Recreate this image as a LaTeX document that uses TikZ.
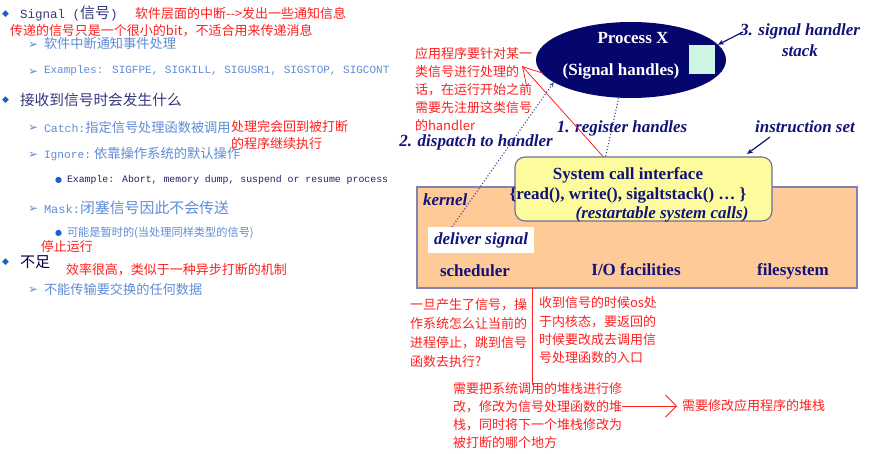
\documentclass[tikz,border=0pt]{standalone}
\usepackage{fontspec}
\setmainfont{Liberation Serif}
\newfontfamily\cjk{Noto Sans CJK SC}
\newfontfamily\monof{Liberation Mono}
\newfontfamily\symf{DejaVu Sans}
\usetikzlibrary{shapes.geometric,arrows.meta}
\definecolor{redc}{RGB}{255,32,32}
\definecolor{lblue}{RGB}{95,140,215}
\definecolor{dpurple}{RGB}{55,55,125}
\definecolor{bblue}{RGB}{25,95,205}
\definecolor{exnavy}{RGB}{35,35,105}
\definecolor{navyc}{RGB}{18,18,120}
\definecolor{ellc}{RGB}{5,5,110}
\definecolor{mint}{RGB}{205,245,228}
\definecolor{peach}{RGB}{253,202,152}
\definecolor{kbord}{RGB}{130,130,180}
\definecolor{ylw}{RGB}{252,252,158}
\definecolor{ybord}{RGB}{110,110,160}
\definecolor{dotc}{RGB}{70,70,150}
\tikzset{
  every node/.style={inner sep=0pt,outer sep=0pt},
  redtxt/.style={text=redc,font=\cjk\fontsize{13}{18.3}\selectfont,align=left},
  subtxt/.style={text=lblue,anchor=west},
  headtxt/.style={text=dpurple,anchor=west},
  abul/.style={text=lblue,font=\symf\fontsize{12}{13}\selectfont,anchor=west},
  dbul/.style={text=bblue,font=\symf\fontsize{9}{10}\selectfont,anchor=west},
  cbul/.style={text=bblue,font=\symf\fontsize{8}{9}\selectfont,anchor=west},
  diagb/.style={text=navyc,font=\bfseries\fontsize{17}{20}\selectfont},
  diagi/.style={text=navyc,font=\bfseries\itshape\fontsize{17}{21}\selectfont},
  dotline/.style={dotc,dotted,line width=1.1pt},
  navyarrow/.style={navyc,line width=1.2pt,-{Stealth[length=6pt,width=5pt]}},
  redline/.style={redc,line width=0.8pt}
}
\begin{document}
\begin{tikzpicture}[x=1pt,y=-1pt]
\useasboundingbox (0,0) rectangle (871,454);
\fill[white] (0,0) rectangle (871,454);

% ---------- left list ----------
\node[dbul] (d1) at (2,14) {◆};
\node[headtxt] (t1) at (20,14) {{\monof\fontsize{12.5}{15}\selectfont Signal (}{\cjk\fontsize{15}{18}\selectfont 信号}{\monof\fontsize{12.5}{15}\selectfont )}};
\node[redtxt,anchor=west] (r1) at (135,14) {软件层面的中断-{}->发出一些通知信息};
\node[redtxt,anchor=west] (r2) at (10,31) {传递的信号只是一个很小的bit，不适合用来传递消息};
\node[abul] (a1) at (28,45) {➢};
\node[subtxt,font=\cjk\fontsize{13.2}{16}\selectfont] (t2) at (44,44) {软件中断通知事件处理};
\node[abul] (a2) at (28,72) {➢};
\node[subtxt,font=\monof\fontsize{11}{13}\selectfont] (t3) at (44,71) {Examples: SIGFPE, SIGKILL, SIGUSR1, SIGSTOP, SIGCONT};
\node[dbul] (d2) at (2,100) {◆};
\node[headtxt,font=\cjk\fontsize{14.7}{18}\selectfont] (t4) at (20,100) {接收到信号时会发生什么};
\node[abul] (a3) at (28,128) {➢};
\node[subtxt] (t5) at (44,127) {{\monof\fontsize{11.5}{14}\selectfont Catch:}{\cjk\fontsize{13.2}{17}\selectfont 指定信号处理函数被调用}};
\node[redtxt,anchor=north west,font=\cjk\fontsize{13}{17}\selectfont] (r3) at (231,120) {处理完会回到被打断\\的程序继续执行};
\node[abul] (a4) at (28,155) {➢};
\node[subtxt] (t6) at (44,154) {{\monof\fontsize{11.2}{14}\selectfont Ignore:}{\cjk\fontsize{13.3}{17}\selectfont ~依靠操作系统的默认操作}};
\node[cbul] (c1) at (55,180) {●};
\node[anchor=west,text=exnavy,font=\monof\fontsize{9.85}{12}\selectfont] (t7) at (67,180) {Example: Abort, memory dump, suspend or resume process};
\node[abul] (a5) at (28,209) {➢};
\node[subtxt] (t8) at (44,208) {{\monof\fontsize{12}{14}\selectfont Mask:}{\cjk\fontsize{14.9}{17}\selectfont 闭塞信号因此不会传送}};
\node[cbul] (c2) at (55,233) {●};
\node[subtxt,font=\cjk\fontsize{11.2}{14}\selectfont] (t9) at (67,233) {可能是暂时的(当处理同样类型的信号)};
\node[redtxt,anchor=west] (r4) at (41,247) {停止运行};
\node[dbul] (d3) at (2,262) {◆};
\node[anchor=west,text=black!75!blue,font=\cjk\fontsize{15}{18}\selectfont] (t10) at (20,262) {不足};
\node[redtxt,anchor=west] (r5) at (66,270) {效率很高，类似于一种异步打断的机制};
\node[abul] (a6) at (28,290) {➢};
\node[subtxt,font=\cjk\fontsize{13.2}{17}\selectfont] (t11) at (44,289) {不能传输要交换的任何数据};

% ---------- right diagram ----------
\node[ellipse,fill=ellc,minimum width=190,minimum height=76] (proc) at (631,60) {};
\node[text=white,font=\bfseries\fontsize{17}{20}\selectfont] (ptitle) at (633,38) {Process X};
\node[text=white,font=\bfseries\fontsize{17}{20}\selectfont] (psub) at (621,71) {(Signal handles)};
\node[fill=mint,minimum width=26,minimum height=29] (sq) at (702,59.5) {};
\node[diagi,align=center] (sh) at (800,40) {3. signal handler\\stack};
\draw[navyarrow] ([xshift=-57pt,yshift=8pt]sh.center) -- (proc.10);

\node[redtxt,anchor=north west,font=\cjk\fontsize{13}{18}\selectfont] (ann) at (415,47) {应用程序要针对某一\\类信号进行处理的\\话，在运行开始之前\\需要先注册这类信号\\的handler};
\coordinate (tipA) at (522,66);

\node[diagi] (reg) at (622,128) {1. register handles};
\node[diagi] (disp) at (476,142) {2. dispatch to handler};
\node[diagi] (iset) at (805,127) {instruction set};

\node[draw=kbord,fill=peach,line width=1.3pt,minimum width=440,minimum height=101] (kernel) at (637,237.5) {};
\node[draw=ybord,fill=ylw,line width=1.1pt,rounded corners=10pt,minimum width=257,minimum height=64] (sci) at (643.5,189) {};
\node[diagb] (sci1) at (628,175) {System call interface};
\node[diagb] (sci2) at (628,195) {\{read(), write(), sigaltstack() … \}};
\node[diagi] (sci3) at (662,214) {(restartable system calls)};
\node[diagi,anchor=west] (kl) at (423,200) {kernel};
\node[fill=white,minimum width=106,minimum height=26,diagi] (deliver) at (481,240) {deliver signal};
\node[diagb] (sched) at (475,271) {scheduler};
\node[diagb] (io) at (636,270) {I/O facilities};
\node[diagb] (fs) at (793,271) {filesystem};

\draw[navyarrow] ([xshift=-35pt,yshift=-4pt]iset.south) -- ([xshift=-25pt,yshift=3pt]sci.north east);
\draw[dotline,-{Stealth[length=5pt,width=4pt]}] ([xshift=-29pt]deliver.north) -- (proc.196);
\draw[dotline] (proc.-108) -- ([xshift=-38pt]sci.north);
\draw[redline,-{Straight Barb[length=19pt,width=22pt]}] ([xshift=-40pt]sci.north) -- (tipA);

% ---------- bottom notes ----------
\node[redtxt,anchor=north west,font=\cjk\fontsize{13}{18.7}\selectfont] (q1) at (410,299) {一旦产生了信号，操\\作系统怎么让当前的\\进程停止，跳到信号\\函数去执行?};
\node[redtxt,anchor=north west] (q2) at (539,297) {收到信号的时候os处\\于内核态，要返回的\\时候要改成去调用信\\号处理函数的入口};
\node[redtxt,anchor=north west,font=\cjk\fontsize{13}{18}\selectfont] (q3) at (453,383) {需要把系统调用的堆栈进行修\\改，修改为信号处理函数的堆\\栈，同时将下一个堆栈修改为\\被打断的哪个地方};
\node[redtxt,anchor=west] (q4) at (682,406) {需要修改应用程序的堆栈};
\draw[redline] ([xshift=-105pt]kernel.south) -- ([xshift=-105pt,yshift=-97pt]kernel.south);
\draw[redline,-{Straight Barb[length=11pt,width=22pt]}] (q3.east |- q4.west) -- ([xshift=-5pt]q4.west);
\end{tikzpicture}
\end{document}
